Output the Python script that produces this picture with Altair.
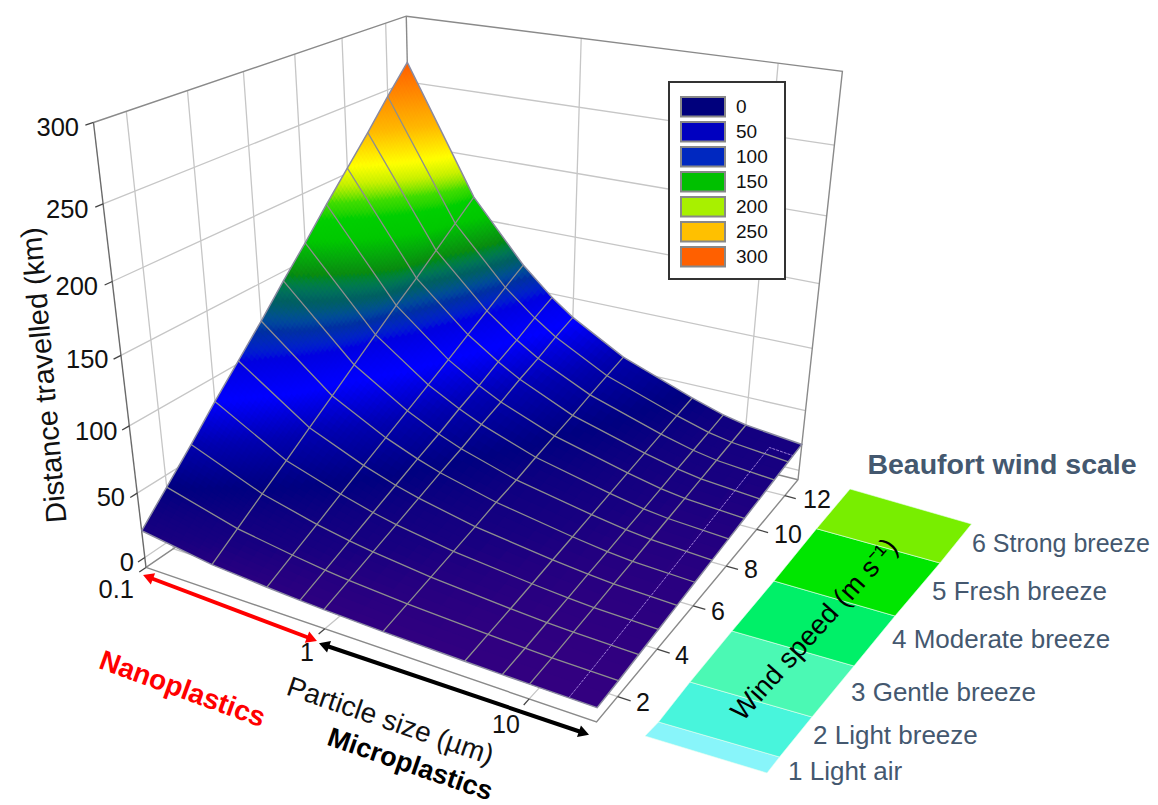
import math
import numpy as np
import pandas as pd
import altair as alt

alt.data_transformers.disable_max_rows()

W, H = 1142, 797
FONT = "Liberation Sans"

# ---------- surface data ----------
SIZES = [0.1, 0.25, 0.5, 0.75, 1, 2, 5, 7.5, 10, 20]
WINDS = list(range(1, 14))
DIST_W1 = [21, 12.5, 9.2, 7.6, 6.6, 5, 3.5, 3, 2.8, 2.3]
DIST_W2 = [41, 25.5, 18.5, 15, 13, 9.5, 6.3, 5, 4.4, 3.6]
DIST_W3 = [61, 38.5, 27.5, 22.4, 19.5, 14, 9, 7.3, 6.4, 5.2]
DIST_W4 = [82, 51, 37, 30, 26, 18.5, 12, 9.6, 8.3, 6.8]
DIST_W5 = [102, 64, 46, 37.5, 32.5, 23, 15, 12, 10.4, 8.5]
DIST_W6 = [122, 77, 55, 45, 39, 28, 18, 14.3, 12.4, 10.2]
DIST_W7 = [143, 90, 64, 52, 45, 32, 21, 16.7, 14.5, 11.9]
DIST_W8 = [163, 103, 73, 60, 52, 37, 24, 19, 16.6, 13.6]
DIST_W9 = [184, 116, 82, 67, 58, 41.5, 27, 21.4, 18.7, 15.3]
DIST_W10 = [204, 128, 91.5, 75, 65, 46, 30, 24, 20.8, 17]
DIST_W11 = [224, 141, 100.5, 82, 71, 51, 33, 26.3, 22.9, 18.7]
DIST_W12 = [245, 154, 110, 90, 78, 55.5, 36, 28.6, 25, 20.4]
DIST_W13 = [265, 167, 119, 97, 84, 60, 39, 31, 27, 22]
DIST = np.array([DIST_W1, DIST_W2, DIST_W3, DIST_W4, DIST_W5, DIST_W6, DIST_W7,
                 DIST_W8, DIST_W9, DIST_W10, DIST_W11, DIST_W12, DIST_W13], float)

Z_TICKS = [0, 50, 100, 150, 200, 250, 300]
W_TICKS = [2, 4, 6, 8, 10, 12]
S_TICKS = [0.1, 1, 10]

COLOR_Z = [0, 20, 41, 61.5, 82, 102, 117, 133, 146, 164, 176, 185, 195, 205, 225, 246, 266, 300]
COLOR_C = ["#360080", "#180080", "#000080", "#0000b0", "#0000ff", "#0000e0", "#0030a0", "#006060",
           "#0a8a10", "#00c800", "#00d000", "#40dd00", "#c8f000", "#ffff00", "#ffb800", "#ff8800",
           "#ff5a00", "#ff5000"]

LEGEND_LABELS = ["0", "50", "100", "150", "200", "250", "300"]
LEGEND_COLORS = ["#00007c", "#0000c0", "#0028c0", "#00c000", "#a8f000", "#ffc000", "#ff6000"]

BEAUFORT = ["1 Light air", "2 Light breeze", "3 Gentle breeze", "4 Moderate breeze",
            "5 Fresh breeze", "6 Strong breeze"]
BEAUFORT_C = ["#88f5fa", "#48f5dc", "#4bf9b4", "#00f068", "#00e600", "#78ee00"]

# ---------- camera from the box corners (u, v, t) -> page pixels ----------
CUBE = [(0, 0, 0), (1, 0, 0), (1, 1, 0), (0, 1, 0), (0, 0, 1), (1, 1, 1), (0, 1, 1)]
PIX = [(146, 567), (597, 722), (798, 480), (414, 384), (93, 123), (842, 71), (407, 16)]
A = []
for (a, b, c), (px, py) in zip(CUBE, PIX):
    px, py = px / 1000, py / 1000
    A.append([a, b, c, 1, 0, 0, 0, 0, -px * a, -px * b, -px * c, -px])
    A.append([0, 0, 0, 0, a, b, c, 1, -py * a, -py * b, -py * c, -py])
CAM = np.linalg.svd(np.array(A))[2][-1].reshape(3, 4)


def cam(u, v, t):
    p = CAM @ np.array([u, v, t, 1.0])
    return (p[0] / p[2] * 1000 - 8, p[1] / p[2] * 1000 - 8)


def uu(s):
    return (math.log10(s) + 1) / (math.log10(20) + 1)


def vv(w):
    return (w - 1) / 12


def tt(z):
    return (z + 8) / 308


LS = [math.log10(s) for s in SIZES]


def height(ls, w):
    w = min(max(w, 1), 13)
    i = min(int(w - 1), 11)
    fw = w - 1 - i
    j = min(np.searchsorted(LS, ls, side="right") - 1, len(LS) - 2)
    j = max(j, 0)
    fs = (ls - LS[j]) / (LS[j + 1] - LS[j])
    return ((1 - fw) * ((1 - fs) * DIST[i, j] + fs * DIST[i, j + 1])
            + fw * ((1 - fs) * DIST[i + 1, j] + fs * DIST[i + 1, j + 1]))


def surf(ls, w):
    return cam((ls + 1) / (math.log10(20) + 1), vv(w), tt(height(ls, w)))


def shade(ls, w):
    # colour bands in the picture lie a little flatter than true height
    z = height(ls, w)
    u = (ls + 1) / (math.log10(20) + 1)
    return z + 10 * min(1, u / 0.15) * min(1, max(0, z - 90) / 40)


# ---------- shared scales ----------
SX = alt.Scale(domain=[0, W], range=[0, W], nice=False, zero=False)
SY = alt.Scale(domain=[0, H], range=[0, H], nice=False, zero=False)
X = alt.X("x:Q", scale=SX, axis=None)
Y = alt.Y("y:Q", scale=SY, axis=None)
PROJ = dict(type="identity", scale=1, translate=[0, 0])


def lines(paths, color, width, **kw):
    rows = []
    for k, path in enumerate(paths):
        for i, (x, y) in enumerate(path):
            rows.append({"id": k, "i": i, "x": round(float(x), 2), "y": round(float(y), 2)})
    return alt.Chart(pd.DataFrame(rows)).mark_line(color=color, strokeWidth=width, **kw).encode(
        x=X, y=Y, detail="id:N", order="i:Q")


def text(s, x, y, size=24, color="#111111", angle=0, align="center", weight="normal", font=FONT):
    return alt.Chart(pd.DataFrame({"x": [x - 8], "y": [y - 8], "t": [s]})).mark_text(
        fontSize=size, color=color, angle=angle, align=align, baseline="middle",
        fontWeight=weight, font=font).encode(x=X, y=Y, text="t:N")


layers = []

# ---------- walls and floor ----------
wall = []
for z in Z_TICKS[:-1]:
    wall.append([cam(0, 0, tt(z)), cam(0, 1, tt(z)), cam(1, 1, tt(z))])
for w in W_TICKS:
    wall.append([cam(1, vv(w), 0), cam(0, vv(w), 0), cam(0, vv(w), 1)])
for s in S_TICKS[1:]:
    wall.append([cam(uu(s), 0, 0), cam(uu(s), 1, 0), cam(uu(s), 1, 1)])
layers.append(lines(wall, "#c6c6c6", 1.3))

box = [[cam(0, 1, 0), cam(0, 1, 1)],
       [cam(0, 0, 1), cam(0, 1, 1), cam(1, 1, 1), cam(1, 1, 0), cam(1, 0, 0), cam(0, 0, 0)],
       [cam(0, 0, 0), cam(0, 1, 0), cam(1, 1, 0)]]
layers.append(lines(box, "#8a8a8a", 1.4))
layers.append(lines([[cam(0, 0, 0), cam(0, 0, 1)]], "#6a6a6a", 1.4))

# ---------- surface ----------
# painted back to front; each tile runs on under the next one so no seams show
STEP = 2.0
features = []
for i in range(len(WINDS) - 2, -1, -1):
    for j in range(len(SIZES) - 1):
        ns = max(1, math.ceil(max(abs(DIST[i, j] - DIST[i, j + 1]), abs(DIST[i + 1, j] - DIST[i + 1, j + 1])) / STEP))
        nw = max(2, math.ceil(max(abs(DIST[i + 1, j] - DIST[i, j]), abs(DIST[i + 1, j + 1] - DIST[i, j + 1])) / STEP))
        for a in range(nw - 1, -1, -1):
            for b in range(ns):
                w0 = WINDS[i] + a / nw
                w1 = WINDS[i] + (a + 1) / nw
                l0 = LS[j] + (LS[j + 1] - LS[j]) * b / ns
                l1 = LS[j] + (LS[j + 1] - LS[j]) * (b + 1) / ns
                we = max(1, w0 - 0.5 / nw)
                le = min(LS[-1], l1 + 0.5 * (l1 - l0))
                ring = [surf(l0, we), surf(le, we), surf(le, w1), surf(l0, w1), surf(l0, we)]
                ring = [[round(float(p), 2), round(float(q), 2)] for p, q in ring]
                zc = shade((l0 + l1) / 2, (w0 + w1) / 2)
                features.append({"type": "Feature", "geometry": {"type": "Polygon", "coordinates": [ring]},
                                 "properties": {"z": round(float(zc), 1)}})
CSCALE = alt.Scale(domain=COLOR_Z, range=COLOR_C, clamp=True)
layers.append(alt.Chart(alt.Data(values=features)).mark_geoshape(strokeWidth=0, opacity=1).encode(
    color=alt.Color("properties.z:Q", scale=CSCALE, legend=None)).project(**PROJ))

# wire grid
grid = []
for w in WINDS[1:-1]:
    grid.append([surf(l, w) for l in LS])
for l in LS[1:-1]:
    grid.append([surf(l, w) for w in WINDS])
layers.append(lines(grid, "#8e8e8e", 1.3))

overlay = [surf(math.log10(15), w) for w in [1, 2, 3, 4, 5, 6, 7, 8, 9, 10, 11, 12, 12.35]]
overlay.append(surf(math.log10(20), 12.35))
layers.append(lines([overlay], "#a88be0", 0.9, strokeDash=[3, 1]))

outline = [[surf(LS[0], w) for w in WINDS] + [surf(l, 13) for l in LS] +
           [surf(LS[-1], w) for w in WINDS[::-1]] + [surf(l, 1) for l in LS[::-1]]]
layers.append(lines(outline, "#8a8aa0", 1.5))

# ---------- ticks ----------
ticks = []
for z in Z_TICKS:
    ticks.append([cam(0, 0, tt(z)), cam(0, -0.02, tt(z))])
for w in W_TICKS:
    ticks.append([cam(1, vv(w), 0), cam(1.025, vv(w), 0)])
for s in S_TICKS:
    ticks.append([cam(uu(s), 0, 0), cam(uu(s), -0.02, 0)])
layers.append(lines(ticks, "#444444", 1.3))

# ---------- Beaufort band ----------
BAND_L = [(645, 736), (658.5, 722), (690, 682), (732, 631), (774, 581), (816.5, 528.7), (850, 489)]
BAND_R = [(767, 773), (779.5, 757), (812, 717), (854, 666), (895, 616), (940, 563), (971.5, 524)]
for k in range(6):
    ring = [BAND_L[k], BAND_R[k], BAND_R[k + 1], BAND_L[k + 1], BAND_L[k]]
    ring = [[p - 8, q - 8] for p, q in ring]
    feat = {"type": "Feature", "geometry": {"type": "Polygon", "coordinates": [ring]},
            "properties": {"level": k + 1}}
    layers.append(alt.Chart(alt.Data(values=[feat])).mark_geoshape(
        fill=BEAUFORT_C[k], stroke="#e8fff0", strokeWidth=0.6).project(**PROJ))

# ---------- arrows ----------
def arrow(p, q, color):
    x0, y0, x1, y1 = p[0] - 8, p[1] - 8, q[0] - 8, q[1] - 8
    out = [lines([[(x0, y0), (x1, y1)]], color, 4)]
    ang = math.degrees(math.atan2(y1 - y0, x1 - x0))
    for (x, y, a) in [(x0, y0, ang + 270), (x1, y1, ang + 90)]:
        out.append(alt.Chart(pd.DataFrame({"x": [x], "y": [y]})).mark_point(
            shape="triangle-up", filled=True, size=150, opacity=1, color=color, strokeWidth=0,
            angle=a % 360).encode(x=X, y=Y))
    return out


layers += arrow((148, 577), (312, 639), "#ff0000")
layers += arrow((324, 645), (584, 733), "#000000")

# ---------- axis labels ----------
for s, x, y in [("300", 79, 128), ("250", 88.5, 210), ("200", 98, 287), ("150", 108.5, 360),
                ("100", 117.5, 432), ("50", 125, 498), ("0", 134, 563), ("0.1", 134, 590)]:
    layers.append(text(s, x, y, size=25.5, align="right"))
for s, x, y in [("1", 307, 653), ("10", 506, 725), ("2", 643, 703), ("4", 682, 656), ("6", 718, 612),
                ("8", 751, 570), ("10", 788, 535), ("12", 817, 500)]:
    layers.append(text(s, x, y, size=25))
layers.append(text("Distance travelled (km)", 44.5, 375, size=29, angle=265))
layers.append(text("Particle size (\u00b5m)", 390, 722, size=28, angle=19))
layers.append(text("Nanoplastics", 182, 690, size=28, angle=20, color="#ff0000", weight="bold"))
layers.append(text("Microplastics", 410, 765, size=27, angle=19, color="#000000", weight="bold"))
layers.append(text("Wind speed (m s\u207b\u00b9)", 815, 630, size=27.5, angle=312, color="#000000"))

# ---------- Beaufort labels ----------
layers.append(text("Beaufort wind scale", 1002, 465, size=28.5, color="#44586f", weight="bold"))
for s, x, y, fs in zip(BEAUFORT, [788, 813, 851, 892, 932, 972], [772, 736, 693, 640, 592, 544],
                       [26, 26, 26, 26, 26, 25]):
    layers.append(text(s, x, y, size=fs, color="#44586f", align="left"))

# ---------- legend ----------
layers.append(alt.Chart(pd.DataFrame({"x": [661], "x2": [777], "y": [74], "y2": [271]})).mark_rect(
    fill="#ffffff", stroke="#333333", strokeWidth=2).encode(x=X, x2="x2:Q", y=Y, y2="y2:Q"))
for k, (lab, col) in enumerate(zip(LEGEND_LABELS, LEGEND_COLORS)):
    y0 = 97 + 25 * k - 8
    layers.append(alt.Chart(pd.DataFrame({"x": [673], "x2": [717], "y": [y0], "y2": [y0 + 19.5]})).mark_rect(
        fill=col, stroke="#888888", strokeWidth=2).encode(x=X, x2="x2:Q", y=Y, y2="y2:Q"))
    layers.append(text(lab, 736, 106.5 + 25 * k, size=19, align="left"))

chart = alt.layer(*layers).properties(
    width=W, height=H, padding=0, background="#ffffff",
    autosize=alt.AutoSizeParams(type="none")
).configure_view(stroke=None)

chart.save("out.html", embed_options={"renderer": "svg", "actions": False})
